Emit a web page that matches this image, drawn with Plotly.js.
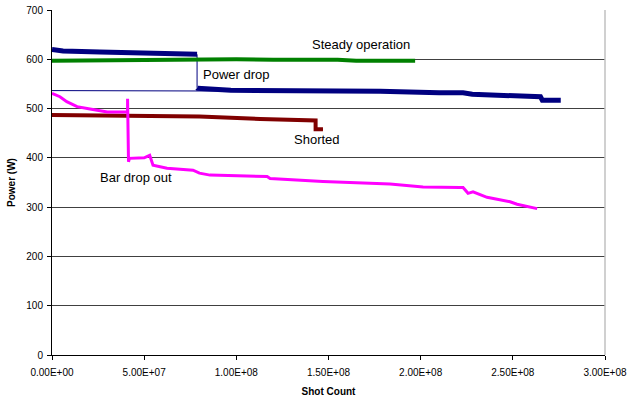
<!DOCTYPE html>
<html><head><meta charset="utf-8">
<script src="https://cdn.plot.ly/plotly-3.0.1.min.js"></script>
<style>html,body{margin:0;padding:0;background:#fff}#chart{width:629px;height:402px}</style>
</head><body><div id="chart"></div>
<script>
// Shot count values in units of 1e8
const powerDropX = [0, 0.06, 0.26, 0.53, 0.787, 0.787, 0.79, 0.97, 1.24, 1.63, 1.78, 2.10, 2.22, 2.23, 2.28, 2.65, 2.66, 2.76];
const powerDropY = [620, 617, 615, 613, 610, 542, 541, 537, 537, 535, 535, 532, 534, 532, 529, 524, 517, 517];
const powerDropConnectorX = [0, 0.98];
const powerDropConnectorY = [536.5, 535.5];

const steadyX = [0, 0.2, 0.5, 0.8, 1.0, 1.2, 1.4, 1.55, 1.65, 1.75, 1.85, 1.97];
const steadyY = [597, 598, 599, 600, 600, 599, 600, 599, 597, 596, 597, 597];

const shortedX = [0, 0.3, 0.8, 1.13, 1.4, 1.43, 1.43, 1.47];
const shortedY = [487, 486, 484, 479, 477, 476, 458, 458];

const barDropX = [0, 0.043, 0.08, 0.136, 0.206, 0.30, 0.41, 0.41, 0.415, 0.42, 0.50, 0.53, 0.548, 0.624, 0.765, 0.80, 0.857, 1.167, 1.183, 1.47, 1.834, 2.013, 2.214, 2.23, 2.257, 2.284, 2.36, 2.485, 2.523, 2.632];
const barDropY = [531, 524, 514, 504, 499, 493, 493, 520, 392, 399, 400, 405, 385, 379, 375, 369, 365, 362, 358, 352, 347, 341, 340, 340, 328, 331, 320, 311, 306, 297];

const xTickVals = [0, 0.5, 1.0, 1.5, 2.0, 2.5, 3.0];
const xTickText = ["0.00E+00", "5.00E+07", "1.00E+08", "1.50E+08", "2.00E+08", "2.50E+08", "3.00E+08"];
const yTickVals = [0, 100, 200, 300, 400, 500, 600, 700];

const S = 1e8;
const sx = a => a.map(v => v == null ? null : v * S);

// split blue at the power drop (index 4 -> 5) so the drop is drawn thin
const dropAt = 5;
const blueThickX = sx(powerDropX.slice(0, dropAt)).concat([null], sx(powerDropX.slice(dropAt)));
const blueThickY = powerDropY.slice(0, dropAt).concat([null], powerDropY.slice(dropAt));
const blueThinX = sx([powerDropX[dropAt-1], powerDropX[dropAt]]).concat([null], sx(powerDropConnectorX));
const blueThinY = [powerDropY[dropAt-1], powerDropY[dropAt]].concat([null], powerDropConnectorY);

const traces = [
  {x: blueThinX, y: blueThinY, mode: 'lines', line: {color: '#000080', width: 1}, hoverinfo: 'skip'},
  {x: sx(steadyX), y: steadyY, mode: 'lines', line: {color: '#008000', width: 4}},
  {x: blueThickX, y: blueThickY, mode: 'lines', line: {color: '#000080', width: 5}},
  {x: sx(shortedX), y: shortedY, mode: 'lines', line: {color: '#800000', width: 4}},
  {x: sx(barDropX), y: barDropY, mode: 'lines', line: {color: '#FF00FF', width: 3}}
];

const fnt = {family: 'Liberation Sans, Arial, sans-serif', color: '#000'};
const layout = {
  width: 629, height: 402,
  margin: {l: 52, r: 24, t: 10, b: 47},
  paper_bgcolor: '#fff', plot_bgcolor: '#fff',
  showlegend: false,
  font: fnt,
  xaxis: {
    range: [0, 3e8], tickvals: sx(xTickVals), ticktext: xTickText,
    showgrid: false, zeroline: false, showline: true, linecolor: '#000', linewidth: 1,
    ticks: 'outside', ticklen: 4, tickcolor: '#000', ticklabelstandoff: 4,
    tickfont: {family: fnt.family, size: 10, color: '#000'},
    title: {text: '<b>Shot Count</b>', font: {family: fnt.family, size: 10, color: '#000'}, standoff: 10}
  },
  yaxis: {
    range: [0, 700], tickvals: yTickVals,
    showgrid: true, gridcolor: '#404040', gridwidth: 1, zeroline: false,
    showline: true, linecolor: '#000', linewidth: 1,
    ticks: 'outside', ticklen: 4, tickcolor: '#000', ticklabelstandoff: 2,
    tickfont: {family: fnt.family, size: 10, color: '#000'},
    title: {text: '<b>Power (W)</b>', font: {family: fnt.family, size: 10, color: '#000'}, standoff: 8}
  },
  shapes: [
    {type: 'line', xref: 'paper', yref: 'paper', x0: 1, x1: 1, y0: 0, y1: 1, line: {color: '#c0c0c0', width: 1.5}}
  ],
  annotations: [
    {text: 'Steady operation', x: 1.677e8, y: 629, showarrow: false, font: {family: fnt.family, size: 13, color: '#000'}},
    {text: 'Power drop', x: 1.0e8, y: 570, showarrow: false, font: {family: fnt.family, size: 13, color: '#000'}},
    {text: 'Shorted', x: 1.44e8, y: 438, showarrow: false, font: {family: fnt.family, size: 13, color: '#000'}},
    {text: 'Bar drop out', x: 0.456e8, y: 361, showarrow: false, font: {family: fnt.family, size: 13, color: '#000'}}
  ]
};
Plotly.newPlot('chart', traces, layout, {staticPlot: true, displayModeBar: false});
</script></body></html>
